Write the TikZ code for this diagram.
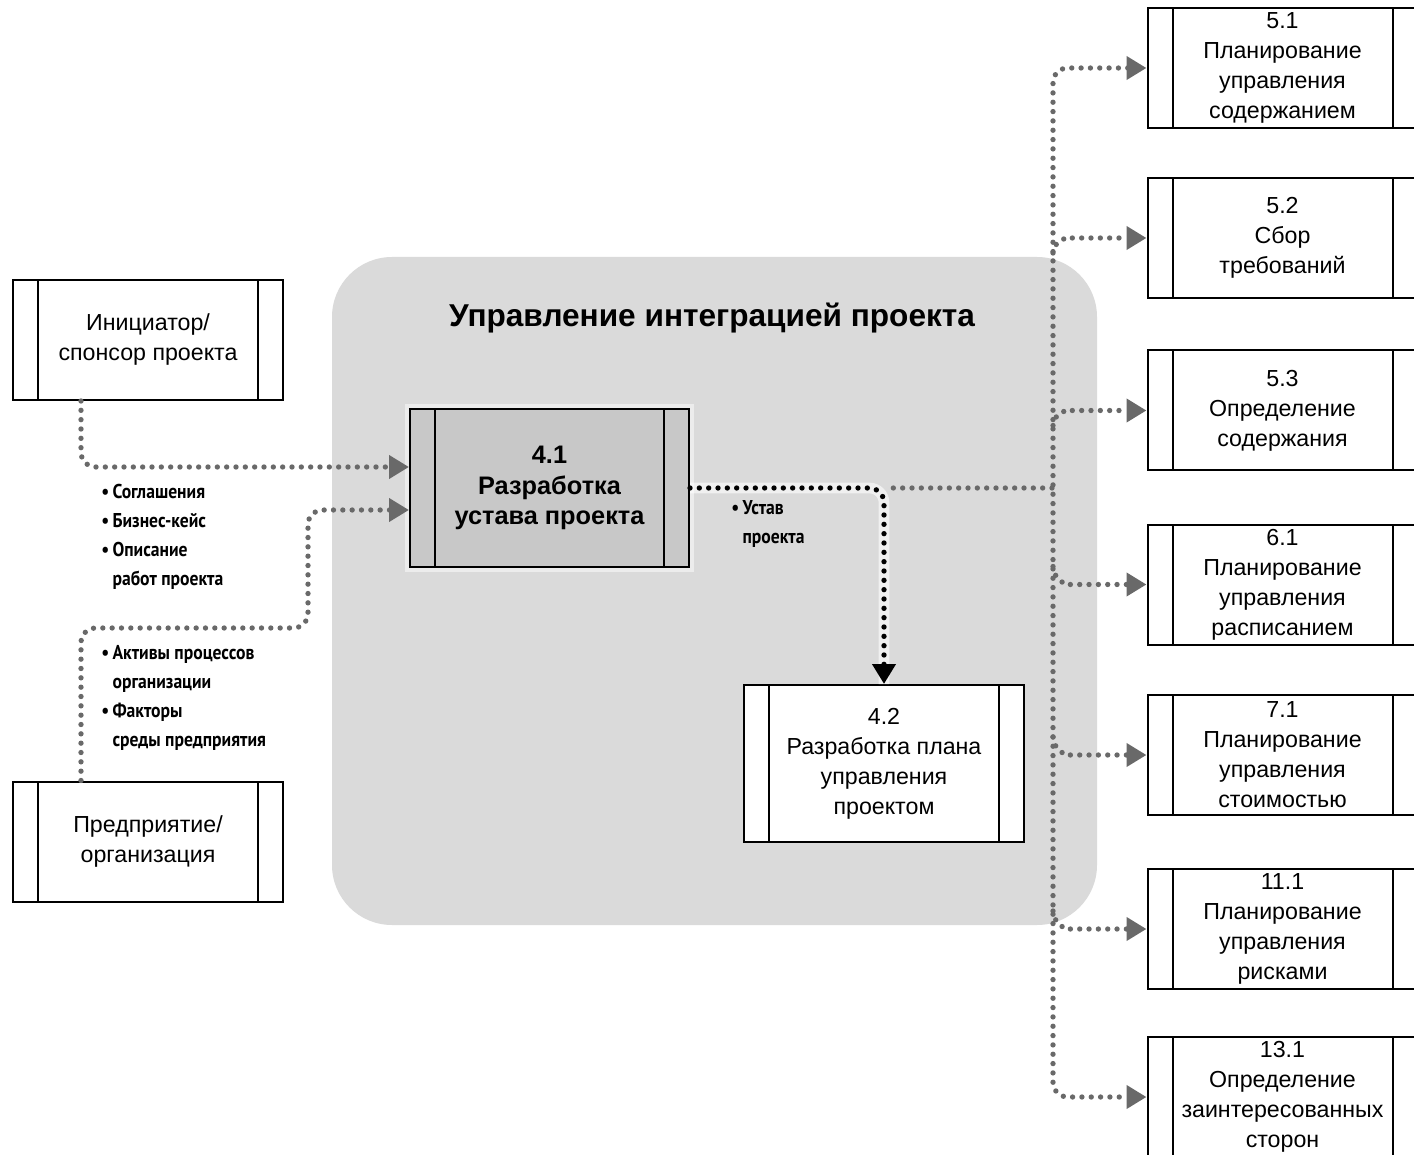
\documentclass[tikz,border=0pt]{standalone}
\usepackage{fontspec}
\setmainfont{Liberation Sans}
\newfontfamily\narrowfont[FakeStretch=0.88]{PT Sans}
\usetikzlibrary{arrows.meta, positioning, calc}

\definecolor{panelgray}{RGB}{218,218,218}
\definecolor{boxgray}{RGB}{200,200,200}
\definecolor{dotgray}{RGB}{105,105,105}

\begin{document}
\begin{tikzpicture}[x=0.75pt, y=0.75pt]
  \tikzset{
    >={Triangle[length=15pt, width=17pt]}, % big flat arrow heads
    procbox/.style={draw, line width=1.5pt, fill=white, align=center,
      minimum width=202.5pt, minimum height=90pt, inner sep=0pt,
      font=\fontsize{17.4}{22.5}\selectfont,
      path picture={\draw[line width=1.5pt]
        ([xshift=18.75pt]path picture bounding box.north west) -- ([xshift=18.75pt]path picture bounding box.south west)
        ([xshift=-18.75pt]path picture bounding box.north east) -- ([xshift=-18.75pt]path picture bounding box.south east);}},
    keybox/.style={fill=boxgray, minimum width=209.25pt, minimum height=118.5pt,
      font=\bfseries\fontsize{19}{23}\selectfont,
      preaction={draw=white, line width=7pt, opacity=0.5}},
    feed/.style={->, draw=dotgray, line width=4pt, line cap=round,
      dash pattern=on 0pt off 7pt, rounded corners=11pt}, % grey dotted flows
    charter/.style={feed, draw=black,
      preaction={draw=white, line width=8pt, opacity=0.6, solid, -}},
    inlist/.style={anchor=north west, align=left, inner sep=0pt,
      font=\narrowfont\bfseries\fontsize{15}{21.75}\selectfont},
  }

  \fill[white] (0,0) rectangle (1414,-1155);
  \useasboundingbox (0,0) rectangle (1414,-1155);

  % integration area
  \node[fill=panelgray, rounded corners=45pt, minimum width=573.75pt, minimum height=501pt] (panel) at (714.5,-591) {};
  \node[font=\bfseries\fontsize{23.7}{27}\selectfont] (title) at (712,-318) {Управление интеграцией проекта};

  \node[procbox] (init) at (148,-340) {Инициатор/\\спонсор проекта};
  \node[procbox] (ent) at (148,-841.5) {Предприятие/\\организация};
  \node[procbox, keybox] (p41) at (549.5,-488) {4.1\\Разработка\\устава проекта};
  \node[procbox, minimum width=210pt, minimum height=117.75pt] (p42) at (884,-763.5) {4.2\\Разработка плана\\управления\\проектом};

  \node[procbox] (r51) at (1282.5,-68) {5.1\\Планирование\\управления\\содержанием};
  \node[procbox] (r52) at (1282.5,-238) {5.2\\Сбор\\требований};
  \node[procbox] (r53) at (1282.5,-410.5) {5.3\\Определение\\содержания};
  \node[procbox] (r61) at (1282.5,-584.5) {6.1\\Планирование\\управления\\расписанием};
  \node[procbox] (r71) at (1282.5,-755) {7.1\\Планирование\\управления\\стоимостью};
  \node[procbox] (r111) at (1282.5,-929) {11.1\\Планирование\\управления\\рисками};
  \node[procbox] (r131) at (1282.5,-1097) {13.1\\Определение\\заинтересованных\\сторон};

  % inputs
  \coordinate (bendA) at (308,-628);
  \draw[feed] ([xshift=51.75pt]init.south west) |- ([yshift=15.75pt]p41.west);
  \draw[feed] ([xshift=51.75pt]ent.north west) |- (bendA) |- ([yshift=-16.5pt]p41.west);

  \node[inlist] (docs) at (101,-484) {•\,Соглашения\\•\,Бизнес-кейс\\•\,Описание\\\phantom{•\,}работ проекта};
  \node[inlist] (env) at (101,-645) {•\,Активы процессов\\\phantom{•\,}организации\\•\,Факторы\\\phantom{•\,}среды предприятия};

  % charter out
  \coordinate (split) at (p41.east -| p42.north);
  \coordinate (bus) at (1053,-488);
  \draw[charter] (p41.east) -| (p42.north);
  \node[inlist] (charterlbl) at (731,-500) {•\,Устав\\\phantom{•\,}проекта};

  \draw[feed, -] ([xshift=7pt]split) -- (bus);
  \draw[feed, <->] (r51.west) -| (bus) |- (r131.west);
  \draw[feed] ($(r52.west -| bus)+(0,-15)$) to[out=90, in=180] ([xshift=-50pt]r52.west) -- (r52.west);
  \draw[feed] ($(r53.west -| bus)+(0,-15)$) to[out=90, in=180] ([xshift=-50pt]r53.west) -- (r53.west);
  \draw[feed] ($(r61.west -| bus)+(0,18)$) to[out=-90, in=180] ([xshift=-50pt]r61.west) -- (r61.west);
  \draw[feed] ($(r71.west -| bus)+(0,18)$) to[out=-90, in=180] ([xshift=-50pt]r71.west) -- (r71.west);
  \draw[feed] ($(r111.west -| bus)+(0,18)$) to[out=-90, in=180] ([xshift=-50pt]r111.west) -- (r111.west);
\end{tikzpicture}
\end{document}
